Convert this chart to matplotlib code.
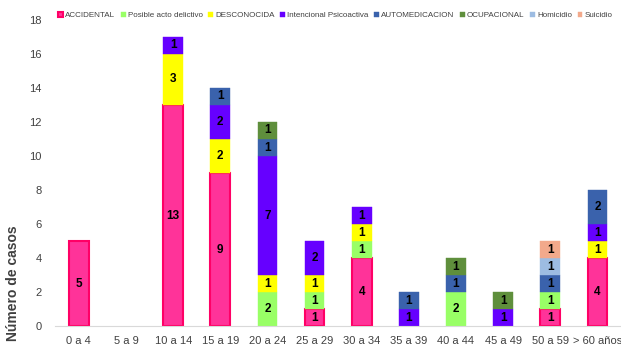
import matplotlib.pyplot as plt
import numpy as np

plt.rcParams['font.family'] = ['Liberation Sans Narrow', 'Liberation Sans', 'DejaVu Sans']

grupos = ["0 a 4", "5 a 9", "10 a 14", "15 a 19", "20 a 24", "25 a 29", "30 a 34",
          "35 a 39", "40 a 44", "45 a 49", "50 a 59", "> 60 años"]

accidental = [5, 0, 13, 9, 0, 1, 4, 0, 0, 0, 1, 4]
delictivo = [0, 0, 0, 0, 2, 1, 1, 0, 2, 0, 1, 0]
desconocida = [0, 0, 3, 2, 1, 1, 1, 0, 0, 0, 0, 1]
psicoactiva = [0, 0, 1, 2, 7, 2, 1, 1, 0, 1, 0, 1]
automedicacion = [0, 0, 0, 1, 1, 0, 0, 1, 1, 0, 1, 2]
ocupacional = [0, 0, 0, 0, 1, 0, 0, 0, 1, 1, 0, 0]
homicidio = [0, 0, 0, 0, 0, 0, 0, 0, 0, 0, 1, 0]
suicidio = [0, 0, 0, 0, 0, 0, 0, 0, 0, 0, 1, 0]

series = [
    ("ACCIDENTAL", accidental, "#FF3399", "#FF0066"),
    ("Posible acto delictivo", delictivo, "#99FF66", "#99FF66"),
    ("DESCONOCIDA", desconocida, "#FFFF00", "#FFFF00"),
    ("Intencional Psicoactiva", psicoactiva, "#6600FF", "#6600FF"),
    ("AUTOMEDICACION", automedicacion, "#3A62AC", "#3A62AC"),
    ("OCUPACIONAL", ocupacional, "#5F8F3C", "#5F8F3C"),
    ("Homicidio", homicidio, "#9DBCE2", "#9DBCE2"),
    ("Suicidio", suicidio, "#F2A98B", "#F2A98B"),
]

fig = plt.figure(figsize=(6.21, 3.56), dpi=100)
ax = fig.add_axes([0.089, 0.084, 0.911, 0.86])

x = np.arange(len(grupos))
bottom = np.zeros(len(grupos))
for name, vals, color, edge in series:
    vals = np.array(vals, dtype=float)
    lw = 1.5 if name == "ACCIDENTAL" else 0.3
    nz = vals > 0
    ax.bar(x[nz], vals[nz], 0.42, bottom=bottom[nz], color=color, edgecolor=edge,
           linewidth=lw, label=name)
    for i, v in enumerate(vals):
        if v > 0:
            ax.text(x[i], bottom[i] + v / 2, f"{int(v)}", ha="center", va="center",
                    fontsize=8.5, fontweight="bold", color="black")
    bottom += vals

ax.set_xlim(-0.5, len(grupos) - 0.5)
ax.set_ylim(0, 18)
ax.set_yticks(range(0, 19, 2))
ax.set_xticks(x)
ax.set_xticklabels(grupos)
ax.tick_params(axis="both", length=0, labelsize=8, colors="#404040")
ax.tick_params(axis="y", pad=10)
ax.tick_params(axis="x", pad=7)
for s in ["top", "right", "left"]:
    ax.spines[s].set_visible(False)
ax.spines["bottom"].set_color("#D9D9D9")
ax.set_ylabel("Número de casos", fontsize=10, fontweight="bold", color="#404040")
ax.yaxis.set_label_coords(-0.062, 0.14)

ax.legend(loc="center left", bbox_to_anchor=(0.0, 1.015), ncol=8, frameon=False,
          fontsize=5.8, handlelength=0.6, handleheight=0.6, handletextpad=0.25,
          columnspacing=0.7, borderaxespad=0, labelcolor="#404040")

fig.savefig("out.png", dpi=100)
